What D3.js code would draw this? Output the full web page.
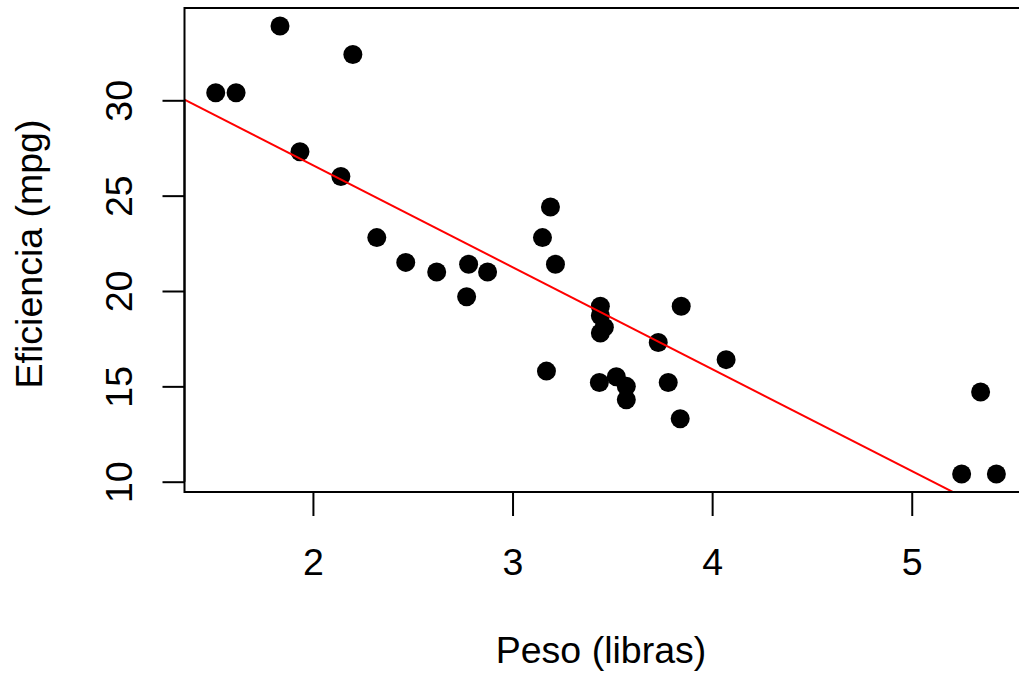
<!DOCTYPE html>
<html>
<head>
<meta charset="utf-8">
<script src="https://cdn.jsdelivr.net/npm/d3@7"></script>
<style>
  html, body { margin: 0; padding: 0; background: #fff; overflow: hidden; }
  svg text { font-family: "Liberation Sans", Arial, sans-serif; fill: #000; }
</style>
</head>
<body>
<svg id="chart" width="1019" height="674"></svg>
<script>
(function () {
  // mtcars: weight (1000 lbs) and mpg
  const peso = [2.620, 2.875, 2.320, 3.215, 3.440, 3.460, 3.570, 3.190, 3.150, 3.440, 3.440,
    4.070, 3.730, 3.780, 5.250, 5.424, 5.345, 2.200, 1.615, 1.835, 2.465, 3.520, 3.435,
    3.840, 3.845, 1.935, 2.140, 1.513, 3.170, 2.770, 3.570, 2.780];
  const eficiencia = [21.0, 21.0, 22.8, 21.4, 18.7, 18.1, 14.3, 24.4, 22.8, 19.2, 17.8,
    16.4, 17.3, 15.2, 10.4, 10.4, 14.7, 32.4, 30.4, 33.9, 21.5, 15.5, 15.2,
    13.3, 19.2, 27.3, 26.0, 30.4, 15.8, 19.7, 15.0, 21.4];
  // lm(mpg ~ wt) coefficients
  const ajuste = { intercept: 37.2851, slope: -5.3445 };
  const xTicks = [2, 3, 4, 5];
  const yTicks = [10, 15, 20, 25, 30];

  const box = { left: 184.5, right: 1027.6, top: 8, bottom: 492 };
  const fontSize = 37.5;

  // R-style 4% domain extension
  function pad(ext) {
    const d = (ext[1] - ext[0]) * 0.04;
    return [ext[0] - d, ext[1] + d];
  }

  const xScale = d3.scaleLinear().domain(pad(d3.extent(peso))).range([box.left, box.right]);
  const yScale = d3.scaleLinear().domain(pad(d3.extent(eficiencia))).range([box.bottom, box.top]);

  const svg = d3.select('#chart');

  svg.append('defs').append('clipPath')
    .attr('id', 'plotclip')
    .append('rect')
    .attr('x', box.left)
    .attr('y', box.top)
    .attr('width', box.right - box.left)
    .attr('height', box.bottom - box.top);

  // points
  svg.append('g')
    .selectAll('circle')
    .data(peso.map((p, i) => ({ x: p, y: eficiencia[i] })))
    .enter()
    .append('circle')
    .attr('cx', d => xScale(d.x))
    .attr('cy', d => yScale(d.y))
    .attr('r', 9.5)
    .attr('fill', '#000');

  // regression line (abline)
  const xd = xScale.domain();
  svg.append('line')
    .attr('clip-path', 'url(#plotclip)')
    .attr('x1', xScale(xd[0]))
    .attr('y1', yScale(ajuste.intercept + ajuste.slope * xd[0]))
    .attr('x2', xScale(xd[1]))
    .attr('y2', yScale(ajuste.intercept + ajuste.slope * xd[1]))
    .attr('stroke', '#ff0000')
    .attr('stroke-width', 2);

  // box
  svg.append('rect')
    .attr('x', box.left)
    .attr('y', box.top)
    .attr('width', box.right - box.left)
    .attr('height', box.bottom - box.top)
    .attr('fill', 'none')
    .attr('stroke', '#000')
    .attr('stroke-width', 2);

  // x axis
  const xAxis = d3.axisBottom(xScale).tickValues(xTicks).tickSize(24).tickPadding(0).tickFormat(d3.format('d'));
  const gx = svg.append('g')
    .attr('transform', `translate(0, ${box.bottom})`)
    .call(xAxis);
  gx.select('.domain')
    .attr('d', `M${xScale(xTicks[0])},0H${xScale(xTicks[xTicks.length - 1])}`)
    .attr('stroke', '#000')
    .attr('stroke-width', 2);
  gx.selectAll('.tick line').attr('stroke', '#000').attr('stroke-width', 2);
  gx.selectAll('.tick text')
    .attr('y', 83)
    .attr('dy', null)
    .style('font-size', fontSize + 'px');

  // y axis
  const yAxis = d3.axisLeft(yScale).tickValues(yTicks).tickSize(22).tickPadding(0).tickFormat(d3.format('d'));
  const gy = svg.append('g')
    .attr('transform', `translate(${box.left}, 0)`)
    .call(yAxis);
  gy.select('.domain')
    .attr('d', `M0,${yScale(yTicks[0])}V${yScale(yTicks[yTicks.length - 1])}`)
    .attr('stroke', '#000')
    .attr('stroke-width', 2);
  gy.selectAll('.tick line').attr('stroke', '#000').attr('stroke-width', 2);
  gy.selectAll('.tick text')
    .attr('x', null)
    .attr('dy', null)
    .attr('text-anchor', 'middle')
    .attr('transform', `translate(${132 - box.left}, 0) rotate(-90)`)
    .style('font-size', fontSize + 'px');

  // axis titles
  svg.append('text')
    .attr('x', 601)
    .attr('y', 663)
    .attr('text-anchor', 'middle')
    .style('font-size', fontSize + 'px')
    .text('Peso (libras)');

  svg.append('text')
    .attr('transform', 'translate(42, 254) rotate(-90)')
    .attr('text-anchor', 'middle')
    .style('font-size', fontSize + 'px')
    .text('Eficiencia (mpg)');
})();
</script>
</body>
</html>
